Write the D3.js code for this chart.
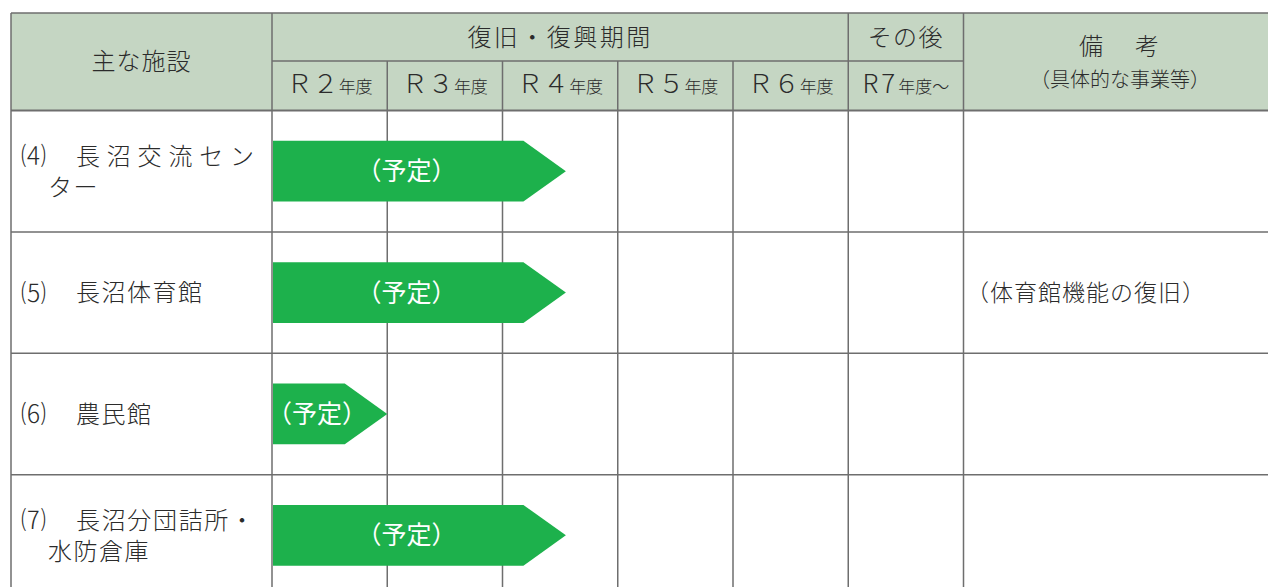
<!DOCTYPE html>
<html><head><meta charset="utf-8">
<script src="https://cdn.jsdelivr.net/npm/d3@7"></script>
<style>
html,body{margin:0;padding:0;background:#fff;}
svg{display:block;}
text{font-family:"Noto Sans CJK JP","Noto Sans",sans-serif;fill:#2b2b2b;font-weight:300;}
</style></head>
<body>
<svg id="c" width="1268" height="587"></svg>
<script>
// ---- data ----
const facilityNumbers = ["⑷", "⑸", "⑹", "⑺"];
const facilityNames = [["長沼交流セン", "ター"], ["長沼体育館"], ["農民館"], ["長沼分団詰所・", "水防倉庫"]];
const startYears = [2, 2, 2, 2];
const endYears = [4.55, 4.55, 3.0, 4.55];
const barLabels = ["（予定）", "（予定）", "（予定）", "（予定）"];
const notes = ["", "（体育館機能の復旧）", "", ""];
const yearTicks = [2, 3, 4, 5, 6, 7];
const yearLabels = ["Ｒ２", "Ｒ３", "Ｒ４", "Ｒ５", "Ｒ６", "R7"];
const yearSuffix = ["年度", "年度", "年度", "年度", "年度", "年度～"];
const headerFacility = "主な施設";
const headerPeriod = "復旧・復興期間";
const headerAfter = "その後";
const headerNote1 = "備　考";
const headerNote2 = "（具体的な事業等）";

// ---- layout ----
const svg = d3.select("#c");
const L = 11, T = 13, MID = 61, HB = 110.5, R = 1285, B = 596;
const x = d3.scaleLinear().domain([2, 8]).range([272, 963.5]);
const y = d3.scaleBand().domain(d3.range(facilityNames.length)).range([HB, B]);
const headFill = "#c5d6c3", lineCol = "#6e6e6e", green = "#1db14c";

// header background
svg.append("rect").attr("x", L).attr("y", T).attr("width", R - L).attr("height", HB - T).attr("fill", headFill);

// grid lines
const g = svg.append("g").attr("stroke", lineCol).attr("stroke-width", 1.5).attr("fill", "none");
g.append("line").attr("x1", L).attr("x2", R).attr("y1", T).attr("y2", T);
g.append("line").attr("x1", x(2)).attr("x2", x(8)).attr("y1", MID).attr("y2", MID);
d3.range(facilityNames.length).forEach(i => {
  g.append("line").attr("x1", L).attr("x2", R).attr("y1", y(i)).attr("y2", y(i)).attr("stroke-width", i === 0 ? 2 : 1.5);
});
g.append("line").attr("x1", L).attr("x2", L).attr("y1", T).attr("y2", B);
[2, 7, 8].forEach(v => g.append("line").attr("x1", x(v)).attr("x2", x(v)).attr("y1", T).attr("y2", B));
[3, 4, 5, 6].forEach(v => g.append("line").attr("x1", x(v)).attr("x2", x(v)).attr("y1", MID).attr("y2", B));

// rows: arrows and labels
const rows = svg.append("g");
facilityNames.forEach((n, i) => {
  const y0 = y(i) + y.bandwidth() * 0.25, y1 = y(i) + y.bandwidth() * 0.75, ym = (y0 + y1) / 2;
  const xs = x(startYears[i]) + 1, xe = x(endYears[i]);
  const tip = (y1 - y0) * 0.7;
  rows.append("path")
    .attr("d", `M${xs},${y0}L${xe - tip},${y0}L${xe},${ym}L${xe - tip},${y1}L${xs},${y1}Z`)
    .attr("fill", green);
  rows.append("text").attr("x", (xs + xe) / 2 - 13).attr("y", ym).attr("dy", "0.36em")
    .attr("text-anchor", "middle").attr("font-size", 25).style("fill", "#fff").style("font-weight", 400)
    .text(barLabels[i]);
  // labels
  const yc = y(i) + y.bandwidth() / 2;
  const lines = n;
  const offs = lines.length === 1 ? [0] : [-15, 16];
  rows.append("text").attr("x", 21).attr("y", yc + offs[0]).attr("dy", "0.36em")
    .attr("font-size", 25).text(facilityNumbers[i]);
  lines.forEach((ln, k) => {
    const t = rows.append("text").attr("y", yc + offs[k]).attr("dy", "0.36em").attr("font-size", 24).text(ln);
    if (k === 0) {
      t.attr("x", 76);
      if (lines.length > 1) t.attr("textLength", 178).attr("lengthAdjust", "spacing");
      else t.style("letter-spacing", "1.5px");
    } else {
      t.attr("x", 48).style("letter-spacing", "1.5px");
    }
  });
  if (notes[i]) {
    rows.append("text").attr("x", 966).attr("y", yc).attr("dy", "0.36em").attr("font-size", 23)
      .style("letter-spacing", "1px").text(notes[i]);
  }
});

// header texts
const hg = svg.append("g");
hg.append("text").attr("x", (L + x(2)) / 2).attr("y", (T + HB) / 2).attr("dy", "0.36em")
  .attr("text-anchor", "middle").attr("font-size", 24).style("letter-spacing", "1px").text(headerFacility);
hg.append("text").attr("x", (x(2) + x(7)) / 2).attr("y", (T + MID) / 2).attr("dy", "0.36em")
  .attr("text-anchor", "middle").attr("font-size", 24).style("letter-spacing", "2.5px").text(headerPeriod);
hg.append("text").attr("x", (x(7) + x(8)) / 2).attr("y", (T + MID) / 2).attr("dy", "0.36em")
  .attr("text-anchor", "middle").attr("font-size", 24).style("letter-spacing", "1.5px").text(headerAfter);
hg.append("text").attr("x", 1121).attr("y", 46).attr("dy", "0.36em")
  .attr("text-anchor", "middle").attr("font-size", 24).style("letter-spacing", "4px").text(headerNote1);
hg.append("text").attr("x", 1120).attr("y", 80).attr("dy", "0.36em")
  .attr("text-anchor", "middle").attr("font-size", 20).text(headerNote2);
yearTicks.forEach((yr, i) => {
  const t = hg.append("text").attr("x", x(yr + 0.5)).attr("y", (MID + HB) / 2 + 1).attr("dy", "0.36em")
    .attr("text-anchor", "middle");
  t.append("tspan").attr("font-size", 26).style("letter-spacing", i === 5 ? "3px" : "0px").text(yearLabels[i]);
  t.append("tspan").attr("font-size", 17).text(yearSuffix[i]);
});
</script>
</body></html>
